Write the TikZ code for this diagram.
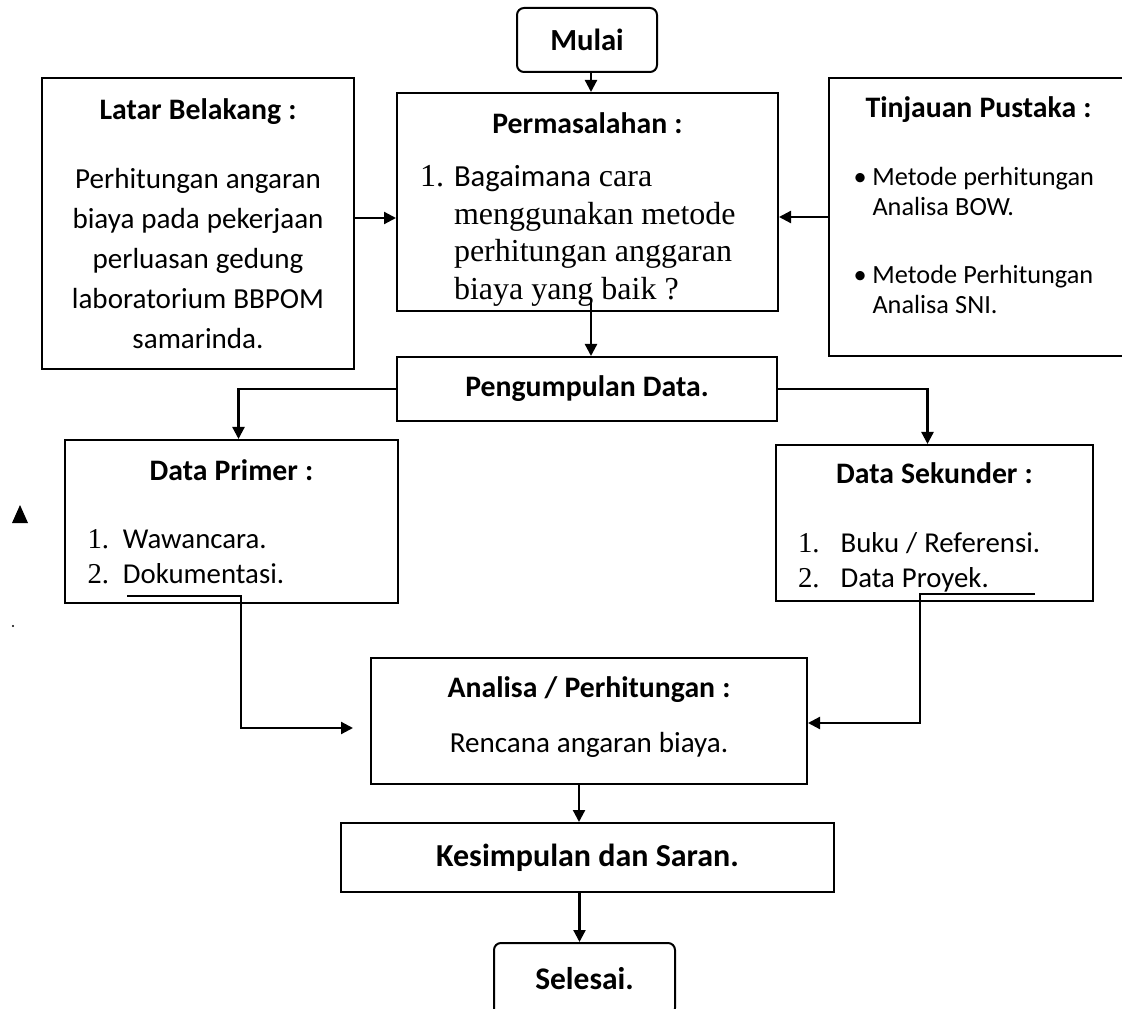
\documentclass[tikz,border=0pt]{standalone}
\usepackage{fontspec}
\setmainfont{Carlito}
\newfontfamily\tnr{Liberation Serif}
\usepackage{tikz}
\usetikzlibrary{arrows,arrows.meta,calc,positioning}

\newdimen\px \px=0.75pt
\newcommand\fttl{\fontsize{22.3}{30}\selectfont\bfseries\spaceskip=.24em\relax}
\newcommand\fbody{\fontsize{21.8}{30}\selectfont\spaceskip=.24em\relax}
\newcommand\fsmall{\fontsize{19.7}{22.5}\selectfont\spaceskip=.24em\relax}
\newcommand\fitem{\fontsize{21.6}{26.25}\selectfont\spaceskip=.24em\relax}

\tikzset{
  box/.style={draw, rectangle, inner sep=0pt, line width=1.5pt},
  endbox/.style={rounded corners=7\px},
  arr/.style={-{Triangle[width=9pt,length=9pt]}, line width=1.7pt},
}

\begin{document}
\begin{tikzpicture}[x=\px, y=-\px]
   \clip (0,0) rectangle (1122,1009);
   \begin{scope}[every node/.style={box}]
    \node (mulai) [endbox, minimum width=140\px, minimum height=64\px] at (587,40)
      {\fontsize{23}{28}\selectfont\bfseries Mulai};
    \node (latar) [minimum width=312\px, minimum height=291\px, text width=300\px, align=center] at (198,223.5)
      {{\fttl Latar Belakang :\par}\vspace{21.75pt}
       \fbody Perhitungan angaran\\ biaya pada pekerjaan\\ perluasan gedung\\ laboratorium BBPOM\\ samarinda.\par};
    \node (masalah) [minimum width=381\px, minimum height=218\px, text width=335\px, align=left] at (587.5,202)
      {\rule{0pt}{27pt}\makebox[\linewidth]{\fttl Permasalahan :}\par\vspace{11.25pt}
       {\tnr\fontsize{24}{28.3}\selectfont\spaceskip=.25em\relax
        \makebox[25.5pt][l]{1.}{\fontsize{23}{28.3}\selectfont\rmfamily Bagaimana} cara\\
        \hspace*{25.5pt}menggunakan metode\\
        \hspace*{25.5pt}perhitungan anggaran\\
        \hspace*{25.5pt}biaya yang baik ?\par}};
    \node (tinjauan) [minimum width=299\px, minimum height=278\px, text width=250\px, align=left] at (978.5,217)
      {\makebox[\linewidth]{\fttl Tinjauan Pustaka :}\par\vspace{28.5pt}
       {\fsmall
        \makebox[14.25pt][l]{\textbullet}Metode perhitungan\\
        \hspace*{14.25pt}Analisa BOW.\\[28.5pt]
        \makebox[14.25pt][l]{\textbullet}Metode Perhitungan\\
        \hspace*{14.25pt}Analisa SNI.\rule[-18pt]{0pt}{0pt}\par}};
    \node (kumpul) [minimum width=380\px, minimum height=64\px] at (587,389)
      {\fttl Pengumpulan Data.};
    \node (primer) [minimum width=333\px, minimum height=163\px, text width=288\px, align=left] at (231.5,521.5)
      {\makebox[\linewidth]{\fttl Data Primer :}\par\vspace{24.75pt}
       {\fitem
        \makebox[26.6pt][l]{\tnr 1.}Wawancara.\\
        \makebox[26.6pt][l]{\tnr 2.}Dokumentasi.\par}};
    \node (sekunder) [minimum width=317\px, minimum height=156\px, text width=273\px, align=left] at (934.5,523)
      {\rule{0pt}{22.5pt}\makebox[\linewidth]{\fttl Data Sekunder :}\par\vspace{25.5pt}
       {\fitem
        \makebox[32pt][l]{\tnr 1.}Buku / Referensi.\\
        \makebox[32pt][l]{\tnr 2.}Data Proyek.\par}};
    \node (analisa) [minimum width=436\px, minimum height=126\px, text width=420\px, align=center] at (589,721)
      {{\fttl Analisa / Perhitungan :\par}\vspace{11pt}
       {\fbody Rencana angaran biaya.\rule[-9.5pt]{0pt}{0pt}\par}};
    \node (simpul) [minimum width=493\px, minimum height=69\px] at (587.5,857.5)
      {\fontsize{24}{29}\selectfont\bfseries Kesimpulan dan Saran.};
    \node (selesai) [endbox, minimum width=181\px, minimum height=72\px] at (584.5,979)
      {\fontsize{23.6}{29}\selectfont\bfseries Selesai.};
   \end{scope}
   \coordinate (mq) at (591,300);
   \coordinate (dp) at (127,596);
   \coordinate (ds) at (1035,594);
   \begin{scope}[arr]
    \draw ([xshift=4\px]mulai.south) -- ([xshift=4\px]mulai.south |- masalah.north);
    \draw ([yshift=5.5\px]latar.east) -- ([yshift=5.5\px]latar.east -| masalah.west);
    \draw (tinjauan.west) -- (tinjauan.west -| masalah.east);
    \draw (mq) -- (mq |- kumpul.north);
    \draw (kumpul.west) -| ([xshift=7\px]primer.north);
    \draw (kumpul.east) -| ([xshift=-7\px]sekunder.north);
    \draw (dp) -- ++(114,0) |- ([xshift=-17\px,yshift=-7\px]analisa.west);
    \draw (ds) -- ++(-115,0) |- ([yshift=-2\px]analisa.east);
    \draw ([xshift=-10\px]analisa.south) -- ([xshift=-10\px]analisa.south |- simpul.north);
    \draw ([xshift=-8\px]simpul.south) -- ([xshift=-8\px]simpul.south |- selesai.north);
   \end{scope}
   % stray marks at the left margin
   \fill (12,523) -- (20,505) -- (28,523) -- cycle;
   \fill (13,626) circle (1.2);
\end{tikzpicture}
\end{document}
